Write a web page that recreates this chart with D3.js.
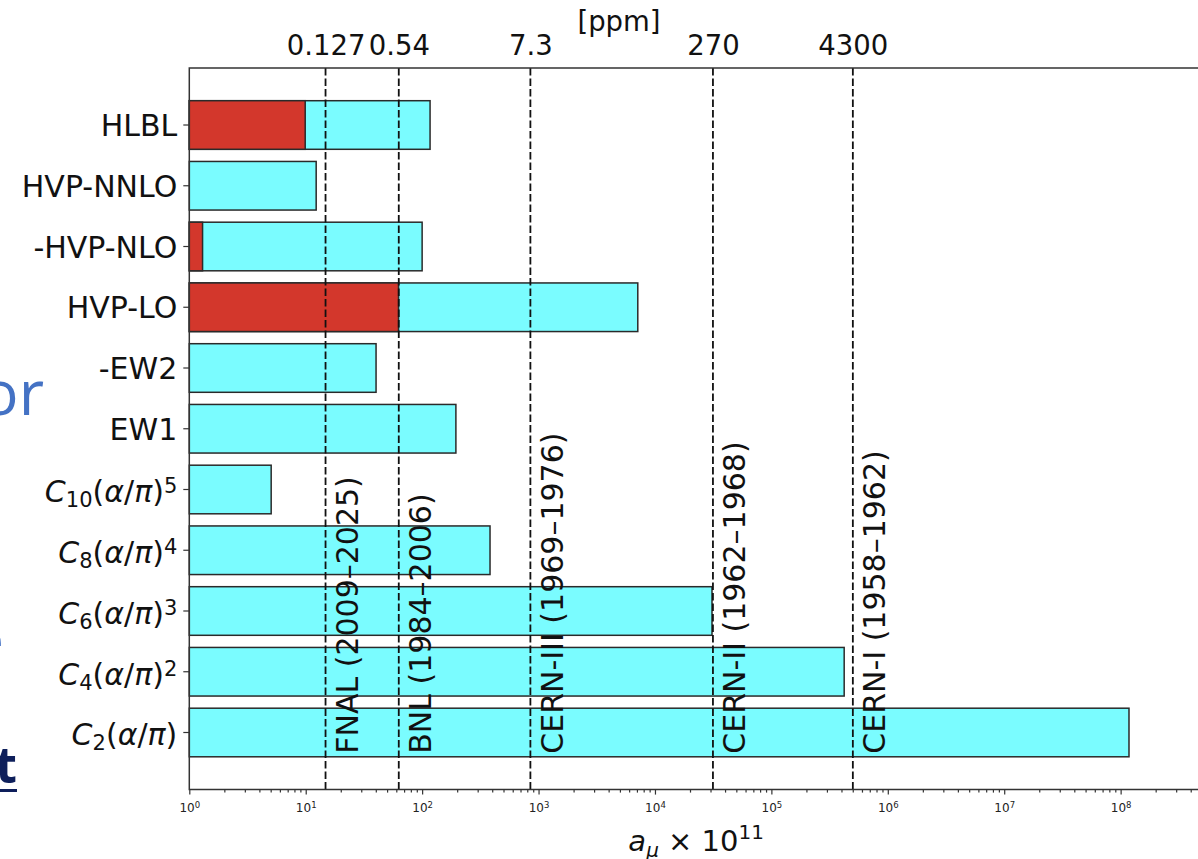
<!DOCTYPE html>
<html lang="en">
<head>
    <meta charset="UTF-8">
    <title>Contributions to a_mu vs experimental precision</title>
    <script src="https://cdn.jsdelivr.net/npm/d3@7"></script>
    <style>
        body { margin: 0; background: #fff; }
        svg { display: block; font-family: "DejaVu Sans", sans-serif; }
    </style>
</head>
<body>
<svg width="1198" height="859"></svg>

<script>

    // contributions, bottom row first (a_mu x 10^11)
    var terms = ['C_2(α/π)', 'C_4(α/π)^2', 'C_6(α/π)^3', 'C_8(α/π)^4', 'C_10(α/π)^5',
                 'EW1', '-EW2', 'HVP-LO', '-HVP-NLO', 'HVP-NNLO', 'HLBL']
    var values = [1.18e8, 422000, 30900, 383, 5.05, 195, 40.2, 7120, 100, 12.3, 117]
    var errors = [0, 0, 0, 0, 0, 0, 0, 62.7, 1.3, 0, 9.9]

    // experiments and their precision (a_mu x 10^11, and in ppm)
    var experiments = ['FNAL (2009–2025)', 'BNL (1984–2006)', 'CERN-III (1969–1976)',
                       'CERN-II (1962–1968)', 'CERN-I (1958–1962)']
    var precision = [14.8, 63, 851, 31480, 501000]
    var ppmLabels = ['0.127', '0.54', '7.3', '270', '4300']

    var majorTicks = [1e0, 1e1, 1e2, 1e3, 1e4, 1e5, 1e6, 1e7, 1e8]

    function draw() {
        var cyan = '#7afcff'
        var red = '#d3372c'
        var edge = '#2a2a2a'

        var svg = d3.select('svg')

        var x = d3.scaleLog()
            .domain([1, 5.1e8])
            .range([189.3, 1203])

        var y = d3.scaleLinear()
            .domain([-0.94, 10.94])
            .range([789.6, 67.9])

        var xLeft = x.range()[0], xRight = x.range()[1]
        var yTop = y.range()[1], yBottom = y.range()[0]

        // bars
        var rows = terms.map((t, i) => ({ term: t, value: values[i], err: errors[i], i: i }))

        svg.append('g').selectAll('rect')
            .data(rows)
            .join('rect')
            .attr('x', x(1))
            .attr('y', d => y(d.i + 0.4))
            .attr('width', d => x(d.value) - x(1))
            .attr('height', d => y(d.i - 0.4) - y(d.i + 0.4))
            .attr('fill', cyan)
            .attr('stroke', edge)
            .attr('stroke-width', 1.5)

        svg.append('g').selectAll('rect')
            .data(rows.filter(d => d.err > 0))
            .join('rect')
            .attr('x', x(1))
            .attr('y', d => y(d.i + 0.4))
            .attr('width', d => x(d.err) - x(1))
            .attr('height', d => y(d.i - 0.4) - y(d.i + 0.4))
            .attr('fill', red)
            .attr('stroke', edge)
            .attr('stroke-width', 1.5)

        // experiment lines
        var exps = experiments.map((e, j) => ({ name: e, v: precision[j], ppm: ppmLabels[j] }))

        svg.append('g').selectAll('line')
            .data(exps)
            .join('line')
            .attr('x1', d => x(d.v))
            .attr('x2', d => x(d.v))
            .attr('y1', yTop)
            .attr('y2', yBottom)
            .attr('stroke', '#111')
            .attr('stroke-width', 1.8)
            .attr('stroke-dasharray', '7.5,3')

        svg.append('g').selectAll('text')
            .data(exps)
            .join('text')
            .attr('transform', d => `translate(${x(d.v) + 32.5},${y(-0.35)}) rotate(-90)`)
            .attr('font-size', 30)
            .attr('fill', '#111')
            .text(d => d.name)

        // spines
        svg.append('path')
            .attr('d', `M${xRight},${yTop}H${xLeft}V${yBottom}H${xRight}`)
            .attr('fill', 'none')
            .attr('stroke', '#333')
            .attr('stroke-width', 1.5)

        // bottom axis, minor ticks then major ticks
        var minorTicks = []
        majorTicks.forEach(p => {
            for (var m = 2; m <= 9; m++) {
                if (p * m <= x.domain()[1]) minorTicks.push(p * m)
            }
        })

        var minorAxis = svg.append('g')
            .attr('transform', `translate(0,${yBottom})`)
            .call(d3.axisBottom(x).tickValues(minorTicks).tickSize(3).tickFormat(''))
        minorAxis.select('.domain').remove()

        var majorAxis = svg.append('g')
            .attr('transform', `translate(0,${yBottom})`)
            .call(d3.axisBottom(x).tickValues(majorTicks).tickSize(5).tickPadding(9).tickFormat(''))
        majorAxis.select('.domain').remove()

        majorAxis.selectAll('.tick text')
            .attr('font-size', 12)
            .attr('font-family', '"DejaVu Sans", sans-serif')
            .attr('fill', '#222')
            .each(function (d) {
                var t = d3.select(this)
                t.append('tspan').text('10')
                t.append('tspan').attr('font-size', 8.5).attr('dy', '-0.45em').text(Math.round(Math.log10(d)))
            })

        svg.selectAll('.tick line').attr('stroke', '#333').attr('stroke-width', 1.2)

        // top axis in ppm
        var topAxis = svg.append('g')
            .attr('transform', `translate(0,${yTop})`)
            .call(d3.axisTop(x).tickValues(precision).tickSize(0).tickPadding(13)
                .tickFormat((d, i) => ppmLabels[i]))
        topAxis.select('.domain').remove()
        topAxis.selectAll('text')
            .attr('font-size', 27.5)
            .attr('font-family', '"DejaVu Sans", sans-serif')
            .attr('fill', '#111')

        svg.append('text')
            .attr('x', 619)
            .attr('y', 31)
            .attr('text-anchor', 'middle')
            .attr('font-size', 27.5)
            .attr('fill', '#111')
            .text('[ppm]')

        // y ticks and labels
        var yg = svg.append('g')
        yg.selectAll('line')
            .data(rows)
            .join('line')
            .attr('x1', xLeft - 6)
            .attr('x2', xLeft)
            .attr('y1', d => y(d.i))
            .attr('y2', d => y(d.i))
            .attr('stroke', '#333')
            .attr('stroke-width', 1.2)

        yg.selectAll('text')
            .data(rows)
            .join('text')
            .attr('x', xLeft - 12)
            .attr('text-anchor', 'end')
            .attr('font-size', 30)
            .attr('fill', '#111')
            .each(function (d) {
                var t = d3.select(this)
                var m = d.term.match(/^C_(\d+)\(α\/π\)(?:\^(\d+))?$/)
                if (!m) {
                    t.attr('y', y(d.i) + 11).text(d.term)
                    return
                }
                t.attr('y', y(d.i) + 13)
                t.append('tspan').attr('font-style', 'italic').text('C')
                t.append('tspan').attr('font-size', 21).attr('dy', 5).text(m[1])
                t.append('tspan').attr('dy', -5).text('(')
                t.append('tspan').attr('font-style', 'italic').text('α')
                t.append('tspan').text('/')
                t.append('tspan').attr('font-style', 'italic').text('π')
                t.append('tspan').text(')')
                if (m[2]) t.append('tspan').attr('font-size', 21).attr('dy', -9).text(m[2])
            })

        // x label
        var xl = svg.append('text')
            .attr('x', (xLeft + xRight) / 2)
            .attr('y', 851)
            .attr('text-anchor', 'middle')
            .attr('font-size', 29)
            .attr('fill', '#111')
        xl.append('tspan').attr('font-style', 'italic').text('a')
        xl.append('tspan').attr('font-style', 'italic').attr('font-size', 20).attr('dy', 6).text('μ')
        xl.append('tspan').attr('dy', -6).text(' × 10')
        xl.append('tspan').attr('font-size', 20).attr('dy', -12).text('11')

        // bits of the slide behind the figure
        svg.append('text')
            .attr('x', 44).attr('y', 415)
            .attr('text-anchor', 'end')
            .attr('font-family', '"Open Sans", sans-serif')
            .attr('font-size', 62)
            .attr('fill', '#4472c4')
            .text('or')

        svg.append('text')
            .attr('x', 4).attr('y', 662)
            .attr('text-anchor', 'end')
            .attr('font-family', '"Open Sans", sans-serif')
            .attr('font-size', 62)
            .attr('fill', '#4472c4')
            .text('e')

        svg.append('text')
            .attr('x', 17).attr('y', 783)
            .attr('text-anchor', 'end')
            .attr('font-family', '"Open Sans", sans-serif')
            .attr('font-weight', 'bold')
            .attr('font-size', 50)
            .attr('fill', '#0e1f5b')
            .text('t')
        svg.append('rect')
            .attr('x', 0).attr('y', 789)
            .attr('width', 17).attr('height', 3)
            .attr('fill', '#0e1f5b')
    }

    draw()

</script>
</body>
</html>
